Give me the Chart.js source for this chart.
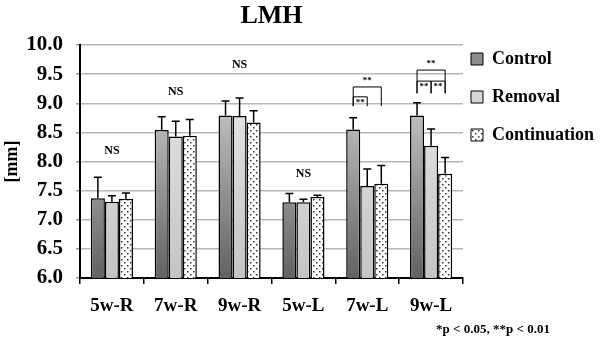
<!DOCTYPE html>
<html>
<head>
<meta charset="utf-8">
<script src="https://cdn.jsdelivr.net/npm/chart.js@4.4.1/dist/chart.umd.min.js"></script>
<style>
  html, body { margin: 0; padding: 0; background: #fff; }
  #wrap { width: 600px; height: 344px; }
</style>
</head>
<body>
<div id="wrap"><canvas id="myChart" width="600" height="344"></canvas></div>
<script>
// values (mm)
var categories = ['5w-R', '7w-R', '9w-R', '5w-L', '7w-L', '9w-L'];
var seriesNames = ['Control', 'Removal', 'Continuation'];

var control = [7.37, 8.54, 8.79, 7.30, 8.55, 8.79];
var controlErr = [0.36, 0.23, 0.25, 0.15, 0.20, 0.22];

var removal = [7.31, 8.43, 8.78, 7.30, 7.58, 8.27];
var removalErr = [0.10, 0.26, 0.31, 0.05, 0.29, 0.29];

var continuation = [7.36, 8.44, 8.67, 7.39, 7.62, 7.79];
var continuationErr = [0.10, 0.28, 0.20, 0.03, 0.31, 0.28];

// "NS" labels: category index, height in mm
var nsCats = [0, 1, 2, 3];
var nsAt = [8.19, 9.19, 9.65, 7.78];

// significance brackets: category, first bar, last bar, top (mm), foot (mm), label inside?
var brackets = [
  { cat: 4, from: 0, to: 2, top: 9.28, foot: 8.95, inside: false },
  { cat: 4, from: 0, to: 1, top: 9.11, foot: 8.95, inside: true },
  { cat: 5, from: 0, to: 2, top: 9.57, foot: 9.17, inside: false },
  { cat: 5, from: 0, to: 1, top: 9.38, foot: 9.17, inside: true },
  { cat: 5, from: 1, to: 2, top: 9.38, foot: 9.17, inside: true }
];

var title = 'LMH';
var footnote = '*p < 0.05, **p < 0.01';

var FONT = '"Liberation Serif", "Times New Roman", serif';
Chart.defaults.font.family = FONT;
Chart.defaults.font.weight = 'bold';
Chart.defaults.color = '#000';

function dotPattern() {
  var c = document.createElement('canvas');
  c.width = 6; c.height = 6;
  var g = c.getContext('2d');
  g.fillStyle = '#ffffff';
  g.fillRect(0, 0, 6, 6);
  g.fillStyle = '#333333';
  g.fillRect(1, 1, 1.5, 1.5);
  g.fillRect(4, 4, 1.5, 1.5);
  return g.createPattern(c, 'repeat');
}
var dots = dotPattern();

function vGrad(chart, top, bottom) {
  var a = chart.chartArea;
  if (!a) return bottom;
  var g = chart.ctx.createLinearGradient(0, a.top, 0, a.bottom);
  g.addColorStop(0, top);
  g.addColorStop(1, bottom);
  return g;
}

var legendFill = ['#8c8c8c', '#d6d6d6', dots];

var errorBars = {
  id: 'errorBars',
  afterDatasetsDraw: function (chart) {
    var ctx = chart.ctx, y = chart.scales.y;
    ctx.save();
    ctx.strokeStyle = '#000';
    ctx.lineWidth = 1.5;
    chart.data.datasets.forEach(function (ds, di) {
      chart.getDatasetMeta(di).data.forEach(function (bar, i) {
        var top = y.getPixelForValue(ds.data[i] + ds.errors[i]);
        var half = 4;
        ctx.beginPath();
        ctx.moveTo(bar.x, bar.y);
        ctx.lineTo(bar.x, top);
        ctx.moveTo(bar.x - half, top);
        ctx.lineTo(bar.x + half, top);
        ctx.stroke();
      });
    });
    ctx.restore();
  }
};

var notes = {
  id: 'notes',
  beforeDraw: function (chart) {
    // pull the legend up and in, next to the plot
    var lg = chart.legend;
    var pad = lg.options.labels.padding;
    lg.left = chart.chartArea.right + 8 - pad;
    lg.top = chart.chartArea.top + 5 - pad;
  },
  afterDraw: function (chart) {
    var ctx = chart.ctx, x = chart.scales.x, y = chart.scales.y, a = chart.chartArea;
    ctx.save();
    ctx.fillStyle = '#000';
    ctx.textAlign = 'center';
    ctx.textBaseline = 'middle';

    ctx.font = 'bold 26px ' + FONT;
    ctx.fillText(title, (a.left + a.right) / 2, 16);

    ctx.font = 'bold 12px ' + FONT;
    nsCats.forEach(function (c, i) {
      ctx.fillText('NS', x.getPixelForValue(c), y.getPixelForValue(nsAt[i]));
    });

    ctx.strokeStyle = '#000';
    ctx.lineWidth = 1;
    ctx.font = 'bold 9px ' + FONT;
    brackets.forEach(function (b) {
      var x1 = chart.getDatasetMeta(b.from).data[b.cat].x;
      var x2 = chart.getDatasetMeta(b.to).data[b.cat].x;
      var yt = y.getPixelForValue(b.top);
      var yf = y.getPixelForValue(b.foot);
      ctx.beginPath();
      ctx.moveTo(x1, yf); ctx.lineTo(x1, yt); ctx.lineTo(x2, yt); ctx.lineTo(x2, yf);
      ctx.stroke();
      ctx.fillText('**', (x1 + x2) / 2, b.inside ? yt + 6 : yt - 6);
    });

    ctx.font = 'bold 13px ' + FONT;
    ctx.fillText(footnote, 493, 330);
    ctx.restore();
  }
};

var chart = new Chart('myChart', {
  type: 'bar',
  data: {
    labels: categories,
    datasets: [
      { label: seriesNames[0], data: control, errors: controlErr,
        backgroundColor: function (c) { return vGrad(c.chart, '#e4e4e4', '#626262'); },
        borderColor: '#000', borderWidth: 1.5 },
      { label: seriesNames[1], data: removal, errors: removalErr,
        backgroundColor: function (c) { return vGrad(c.chart, '#ececec', '#c4c4c4'); },
        borderColor: '#000', borderWidth: 1.5 },
      { label: seriesNames[2], data: continuation, errors: continuationErr,
        backgroundColor: dots, borderColor: '#000', borderWidth: 1.5 }
    ]
  },
  options: {
    responsive: false,
    animation: false,
    devicePixelRatio: 1,
    layout: { padding: { left: 0, top: 45, right: 0, bottom: 0 } },
    datasets: { bar: { categoryPercentage: 0.66, barPercentage: 1.0 } },
    scales: {
      x: {
        offset: true,
        grid: { drawOnChartArea: false, drawTicks: true, tickLength: 6, color: '#000', lineWidth: 1.5 },
        border: { color: '#000', width: 2 },
        ticks: { color: '#000', padding: 11, font: { family: FONT, size: 19, weight: 'bold' } },
        afterFit: function (s) { s.height = 66; }
      },
      y: {
        min: 6, max: 10,
        ticks: {
          stepSize: 0.5, color: '#000', padding: 13,
          font: { family: FONT, size: 21, weight: 'bold' },
          callback: function (v) { return v.toFixed(1); }
        },
        grid: { color: '#b8b8b8', lineWidth: 1.5, tickLength: 4, tickColor: '#999' },
        border: { color: '#000', width: 2 },
        title: { display: true, text: '[mm]', color: '#000', padding: 2, font: { family: FONT, size: 18, weight: 'bold' } },
        afterFit: function (s) { s.width = 80; }
      }
    },
    plugins: {
      title: { display: false },
      tooltip: { enabled: false },
      legend: {
        position: 'right',
        align: 'start',
        maxWidth: 137,
        labels: {
          boxWidth: 12, boxHeight: 12, padding: 20, color: '#000',
          font: { family: FONT, size: 18, weight: 'bold' },
          generateLabels: function (ch) {
            var items = Chart.defaults.plugins.legend.labels.generateLabels(ch);
            items.forEach(function (it, i) {
              it.fillStyle = legendFill[i];
              it.strokeStyle = '#000';
              it.lineWidth = 1;
            });
            return items;
          }
        }
      }
    }
  },
  plugins: [errorBars, notes]
});
</script>
</body>
</html>
